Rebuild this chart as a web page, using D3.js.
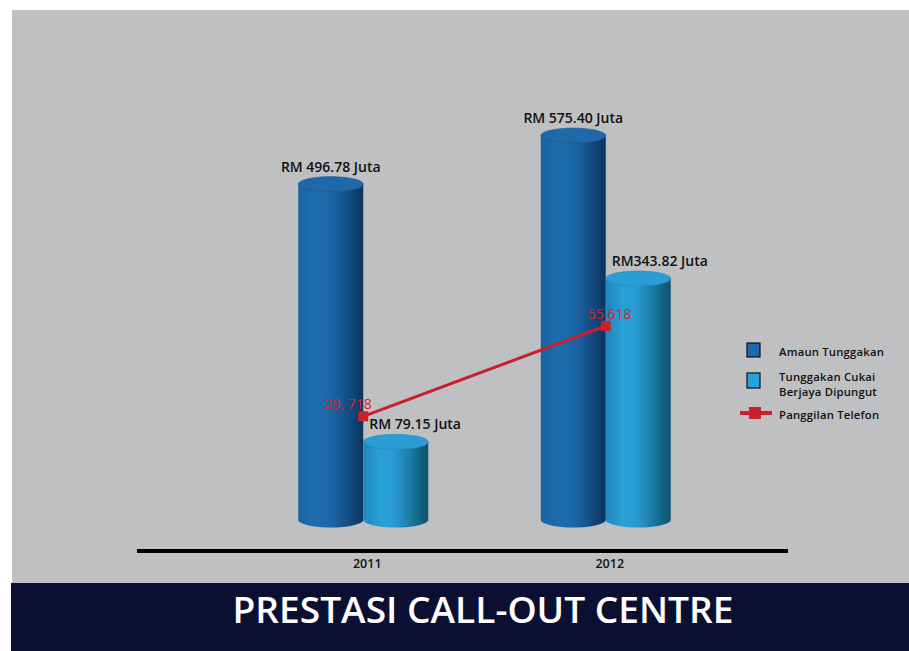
<!DOCTYPE html>
<html>
<head>
<meta charset="utf-8">
<script src="https://cdn.jsdelivr.net/npm/d3@7"></script>
<style>
  html, body { margin: 0; padding: 0; background: #ffffff; }
  svg { display: block; }
  text { font-family: 'Open Sans', 'Noto Sans', sans-serif; }
</style>
</head>
<body>
<svg id="chart" width="909" height="651"></svg>
<script>
const years = ['2011', '2012'];
const amaunTunggakan = [496.78, 575.40];
const cukaiDipungut = [79.15, 343.82];
const panggilanTelefon = [29718, 55618];
const amaunLabels = ['RM 496.78 Juta', 'RM 575.40 Juta'];
const cukaiLabels = ['RM 79.15 Juta', 'RM343.82 Juta'];
const telefonLabels = ['29, 718', '55,618'];
const legendNames = [['Amaun Tunggakan'], ['Tunggakan Cukai', 'Berjaya Dipungut'], ['Panggilan Telefon']];
const chartTitle = 'PRESTASI CALL-OUT CENTRE';

const svg = d3.select('#chart');
const W = 909;
const H = 651;

// background panel + title band
svg.append('rect').attr('x', 12).attr('y', 10).attr('width', W - 12).attr('height', 573).attr('fill', '#bfc0c2');
svg.append('rect').attr('x', 11).attr('y', 583).attr('width', W - 11).attr('height', H - 583).attr('fill', '#0b1033');

const x = d3.scaleBand().domain(years).range([242, 727]);
const sub = d3.scaleBand().domain(['amaun', 'cukai']).range([-65, 65]);
// cylinders stand on a base below zero, as in the artwork
const y = d3.scaleLinear().domain([0, 600]).range([490.7, 120.4]);
const yLine = d3.scaleLinear().domain([0, 60000]).range([520, 310.7]);

const barBottom = 520;
const rx = 32.5;
const ry = 7.5;

const defs = svg.append('defs');
function makeGrad(id, stops) {
    const g = defs.append('linearGradient').attr('id', id)
        .attr('x1', '0%').attr('x2', '100%').attr('y1', '0%').attr('y2', '0%');
    stops.forEach((s) => g.append('stop').attr('offset', s[0]).attr('stop-color', s[1]));
}
makeGrad('gDark', [['0%', '#1a63a2'], ['25%', '#1d6cae'], ['45%', '#1c69aa'], ['60%', '#195e9b'],
    ['75%', '#144f86'], ['88%', '#0f416f'], ['100%', '#0a345d']]);
makeGrad('gLight', [['0%', '#1f86bb'], ['25%', '#28a0d6'], ['45%', '#2a9dd3'], ['62%', '#2189b9'],
    ['78%', '#187196'], ['90%', '#10607e'], ['100%', '#0c546e']]);

const series = [
    { key: 'amaun', values: amaunTunggakan, labels: amaunLabels, grad: 'url(#gDark)', top: '#1f69a9', topStroke: '#17599a', color: '#1c68ad' },
    { key: 'cukai', values: cukaiDipungut, labels: cukaiLabels, grad: 'url(#gLight)', top: '#2a9dd4', topStroke: '#2088bd', color: '#27a2dc' },
];

years.forEach((yr, i) => {
    series.forEach((s) => {
        const x0 = x(yr) + x.bandwidth() / 2 + sub(s.key);
        const x1 = x0 + sub.bandwidth();
        const cx = (x0 + x1) / 2;
        const yt = y(s.values[i]);
        const body = `M${x0},${yt} L${x0},${barBottom} A${rx},${ry} 0 0 0 ${x1},${barBottom} L${x1},${yt} Z`;
        svg.append('path').attr('d', body).attr('fill', s.grad);
        svg.append('ellipse').attr('cx', cx).attr('cy', yt).attr('rx', rx).attr('ry', ry)
            .attr('fill', s.top).attr('stroke', s.topStroke).attr('stroke-width', 0.6);

        const lab = svg.append('text').attr('y', yt - ry - 5)
            .attr('font-size', 14).attr('font-weight', 600).attr('fill', '#111')
            .text(s.labels[i]);
        if (s.key === 'amaun') {
            lab.attr('x', cx).attr('text-anchor', 'middle');
        } else {
            lab.attr('x', x0 + 6).attr('text-anchor', 'start');
        }
    });
});

// axis line and category labels
svg.append('line').attr('x1', 137).attr('x2', 788).attr('y1', 551).attr('y2', 551)
    .attr('stroke', '#000').attr('stroke-width', 4);
svg.selectAll('.cat').data(years).enter().append('text')
    .attr('class', 'cat')
    .attr('x', (d) => x(d) + x.bandwidth() / 2 + 4)
    .attr('y', 568)
    .attr('text-anchor', 'middle')
    .attr('font-size', 12.5).attr('font-weight', 600).attr('fill', '#111')
    .text((d) => d);

// telephone calls line
const lineColor = '#c8202d';
const cxLine = (d, i) => x(years[i]) + x.bandwidth() / 2;
svg.append('path')
    .datum(panggilanTelefon)
    .attr('d', d3.line().x((d, i) => cxLine(d, i)).y((d) => yLine(d)))
    .attr('fill', 'none').attr('stroke', lineColor).attr('stroke-width', 3);
svg.selectAll('.mk').data(panggilanTelefon).enter().append('rect')
    .attr('class', 'mk')
    .attr('x', (d, i) => cxLine(d, i) - 5).attr('y', (d) => yLine(d) - 5)
    .attr('width', 10).attr('height', 10).attr('fill', lineColor);
svg.selectAll('.ml').data(panggilanTelefon).enter().append('text')
    .attr('class', 'ml')
    .attr('x', (d, i) => cxLine(d, i) + (i === 0 ? -15 : 4))
    .attr('y', (d) => yLine(d) - 7)
    .attr('text-anchor', 'middle')
    .attr('font-size', 14).attr('fill', '#d8232f')
    .text((d, i) => telefonLabels[i]);

// legend
const lg = svg.append('g').attr('transform', 'translate(747,343)');
lg.append('rect').attr('x', 0).attr('y', 0).attr('width', 13).attr('height', 14)
    .attr('fill', series[0].color).attr('stroke', '#111').attr('stroke-width', 1.2);
lg.append('rect').attr('x', 0).attr('y', 30).attr('width', 13).attr('height', 15)
    .attr('fill', series[1].color).attr('stroke', '#111').attr('stroke-width', 1.2);
lg.append('line').attr('x1', -7).attr('x2', 25).attr('y1', 70).attr('y2', 70)
    .attr('stroke', lineColor).attr('stroke-width', 4);
lg.append('rect').attr('x', 2).attr('y', 64).attr('width', 12).attr('height', 12).attr('fill', lineColor);

const legendY = [[13], [37.5, 53], [75.5]];
legendNames.forEach((lines, k) => {
    lines.forEach((t, j) => {
        lg.append('text').attr('x', 32).attr('y', legendY[k][j])
            .attr('font-size', 11.3).attr('font-weight', 600).attr('fill', '#111')
            .attr('letter-spacing', 0.2)
            .text(t);
    });
});

// title
svg.append('text')
    .attr('x', 483).attr('y', 623)
    .attr('text-anchor', 'middle')
    .attr('font-size', 36).attr('font-weight', 600).attr('fill', '#ffffff')
    .attr('textLength', 501).attr('lengthAdjust', 'spacingAndGlyphs')
    .text(chartTitle);
</script>
</body>
</html>
